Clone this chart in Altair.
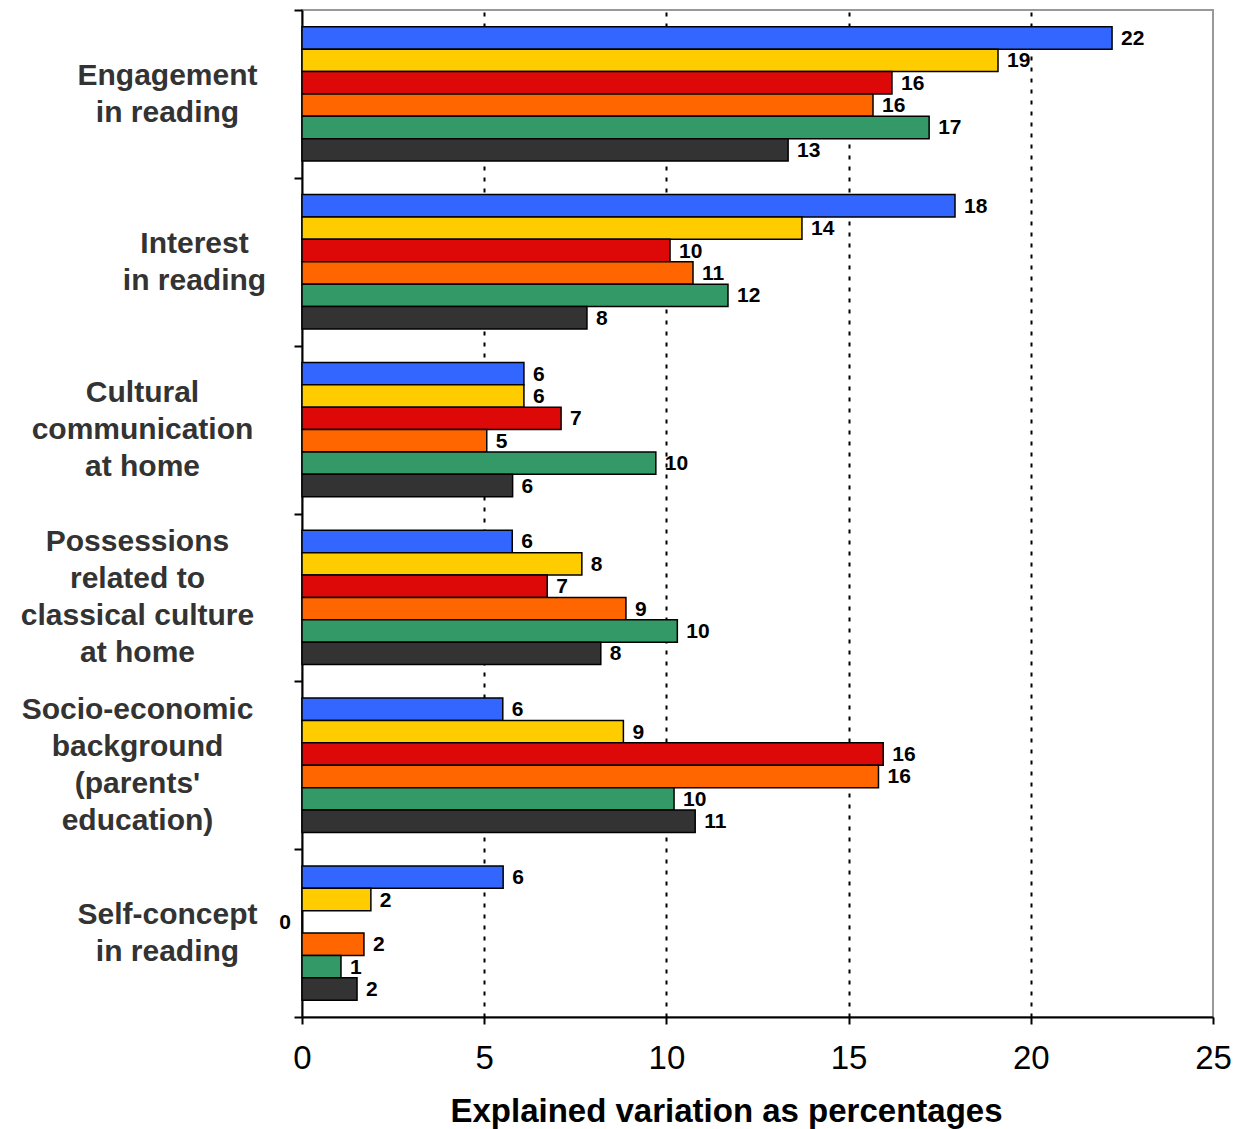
import altair as alt
import pandas as pd

# Explanatory factors (axis labels use "|" as line break)
categories = [
    "Engagement|in reading",
    "Interest|in reading",
    "Cultural|communication|at home",
    "Possessions|related to|classical culture|at home",
    "Socio-economic|background|(parents'|education)",
    "Self-concept|in reading",
]

series = ["Group 1", "Group 2", "Group 3", "Group 4", "Group 5", "Group 6"]
colors = ["#3366FF", "#FFCC00", "#DD0808", "#FF6600", "#339966", "#333333"]

# Explained variation (%) per series, one value per factor
group1 = [22.23, 17.92, 6.09, 5.77, 5.51, 5.52]
group2 = [19.10, 13.72, 6.09, 7.68, 8.82, 1.89]
group3 = [16.19, 10.10, 7.11, 6.73, 15.95, 0.0]
group4 = [15.67, 10.73, 5.07, 8.89, 15.82, 1.70]
group5 = [17.21, 11.69, 9.71, 10.30, 10.21, 1.07]
group6 = [13.34, 7.82, 5.78, 8.20, 10.79, 1.51]

values = [group1, group2, group3, group4, group5, group6]

rows = []
for s, vals in zip(series, values):
    for c, v in zip(categories, vals):
        rows.append({"factor": c, "series": s, "value": v})
df = pd.DataFrame(rows)

HEIGHT = 1007
LINE_H = 37

# Horizontal placement of each centred multi-line factor label
pad = {
    categories[0]: 127,
    categories[1]: 100,
    categories[2]: 152,
    categories[3]: 157,
    categories[4]: 157,
    categories[5]: 127,
}
pad_cond = [{"test": f"datum.value == \"{k}\"", "value": v} for k, v in pad.items()]

# Vertical centring of multi-line labels
off_cond = [
    {"test": f"datum.value == \"{k}\"",
     "value": -(len(k.split("|")) - 1) * LINE_H / 2}
    for k in categories
]

FONT = "Liberation Sans"

y_enc = alt.Y(
    "factor:N",
    sort=categories,
    scale=alt.Scale(paddingInner=0, paddingOuter=0),
    axis=alt.Axis(
        title=None,
        labelExpr="split(datum.label, '|')",
        labelAlign="center",
        labelBaseline="middle",
        labelPadding={"condition": pad_cond, "value": 130},
        labelOffset={"condition": off_cond, "value": 0},
        labelLimit=400,
        labelFont=FONT,
        labelFontSize=30,
        labelFontWeight="bold",
        labelColor="#333333",
        labelLineHeight=LINE_H,
        tickBand="extent",
        tickSize=8,
        tickWidth=2,
        tickColor="black",
        domainColor="black",
        domainWidth=2,
        grid=False,
    ),
)

# Bars within each factor band, with a gap above and below the group
y_off = alt.YOffset(
    "series:N", sort=series,
    scale=alt.Scale(paddingInner=0, paddingOuter=0.75),
)

x_enc = alt.X(
    "value:Q",
    scale=alt.Scale(domain=[0, 25], nice=False),
    axis=alt.Axis(
        title="Explained variation as percentages",
        values=[0, 5, 10, 15, 20, 25],
        format="d",
        labelFont=FONT,
        labelFontSize=33,
        labelColor="black",
        labelPadding=18,
        labelFlush=False,
        tickSize=7,
        tickWidth=2,
        tickColor="black",
        domainColor="black",
        domainWidth=2,
        grid=True,
        gridColor="black",
        gridWidth=2,
        gridDash=[4, 7],
        gridOpacity={"condition": {"test": "datum.value == 0 || datum.value == 25", "value": 0}, "value": 1},
        titleFont=FONT,
        titleFontSize=33,
        titleFontWeight="bold",
        titleColor="black",
        titlePadding=20,
        titleX=424,
    ),
)

base = alt.Chart(df)

bars = base.mark_bar(stroke="black", strokeWidth=1.5).encode(
    x=x_enc,
    y=y_enc,
    yOffset=y_off,
    color=alt.Color("series:N", sort=series,
                    scale=alt.Scale(domain=series, range=colors), legend=None),
)

labels = base.transform_filter("datum.value > 0").mark_text(
    align="left", baseline="middle", dx=9, dy=1,
    font=FONT, fontSize=21, fontWeight="bold", color="black",
).encode(
    x="value:Q",
    y=alt.Y("factor:N", sort=categories),
    yOffset=y_off,
    text=alt.Text("value:Q", format=".0f"),
)

zero_labels = base.transform_filter("datum.value == 0").mark_text(
    align="right", baseline="middle", dx=-11, dy=1,
    font=FONT, fontSize=21, fontWeight="bold", color="black",
).encode(
    x="value:Q",
    y=alt.Y("factor:N", sort=categories),
    yOffset=y_off,
    text=alt.Text("value:Q", format=".0f"),
)

chart = (
    alt.layer(bars, labels, zero_labels)
    .properties(
        width=911,
        height=HEIGHT,
        autosize=alt.AutoSizeParams(type="none"),
        padding={"left": 302, "top": 10, "right": 24, "bottom": 112},
    )
    .configure_view(stroke="#999999", strokeWidth=2)
)

chart.save("out.html", embed_options={"renderer": "svg", "actions": False})
